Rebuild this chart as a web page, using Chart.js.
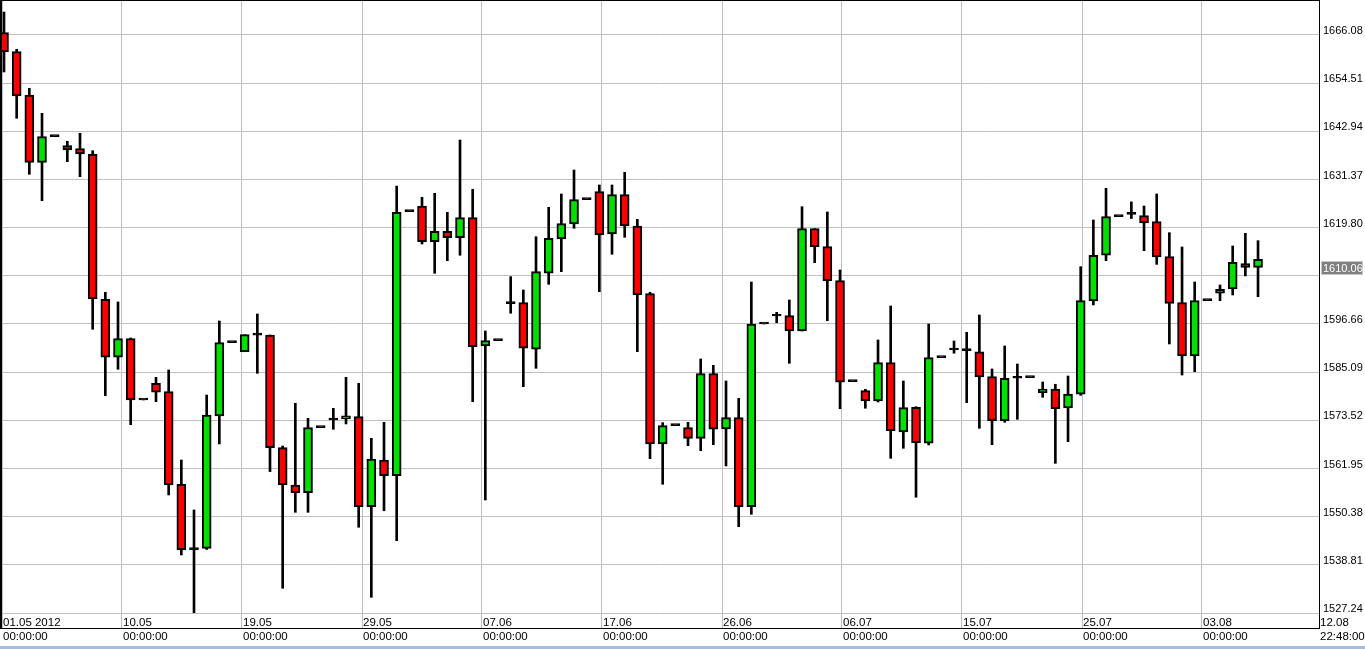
<!DOCTYPE html>
<html><head><meta charset="utf-8">
<script src="https://cdn.jsdelivr.net/npm/chart.js@4.4.1/dist/chart.umd.min.js"></script>
<style>html,body{margin:0;padding:0;background:#fff;overflow:hidden}canvas{display:block}</style>
</head><body>
<canvas id="c" width="1365" height="649"></canvas>
<script>
// ---- data (daily bars, 01.05.2012 .. 08.08.2012) ----
const openP = [1666.64,1662.07,1651.67,1635.50,1641.65,1639.49,1638.77,1637.43,1602.60,1588.67,
1593.13,1578.41,1582.42,1580.40,1558.16,1542.45,1542.78,1574.57,1592.17,1590.00,
1594.00,1594.02,1566.95,1557.99,1556.14,1571.76,1573.60,1573.85,1574.40,1552.78,
1564.00,1560.22,1623.64,1625.01,1616.43,1618.95,1617.39,1622.20,1591.40,1592.65,
1601.54,1601.78,1590.59,1608.84,1617.08,1620.68,1626.52,1628.44,1618.28,1627.72,
1620.20,1603.94,1567.84,1572.23,1571.76,1569.20,1584.73,1571.45,1574.16,1552.78,
1596.66,1598.59,1598.66,1594.98,1619.56,1615.23,1607.06,1582.81,1580.64,1578.17,
1587.37,1570.72,1576.65,1568.01,1588.57,1590.42,1590.25,1589.97,1584.00,1573.36,
1583.62,1583.76,1580.17,1581.05,1576.49,1579.78,1602.20,1613.17,1622.44,1623.00,
1622.68,1621.24,1612.83,1601.78,1588.98,1602.27,1604.04,1605.07,1611.15,1610.28];
const highP = [1671.60,1662.65,1653.28,1647.27,1641.65,1640.55,1642.47,1638.29,1604.28,1601.95,
1593.30,1578.41,1583.86,1585.62,1563.99,1551.99,1579.60,1597.38,1592.17,1594.09,
1599.07,1594.02,1567.36,1577.62,1574.01,1571.76,1576.40,1583.86,1582.42,1569.21,
1573.05,1629.81,1623.64,1627.10,1628.06,1623.49,1640.86,1629.02,1594.98,1592.65,
1608.03,1604.83,1617.63,1624.69,1627.89,1633.65,1626.52,1630.05,1630.05,1633.10,
1621.81,1604.28,1572.96,1572.23,1573.05,1588.26,1586.74,1582.97,1578.80,1606.75,
1596.66,1599.47,1602.43,1624.84,1619.56,1623.57,1609.64,1582.81,1580.98,1592.82,
1600.99,1582.97,1576.80,1596.66,1588.57,1592.58,1594.67,1598.83,1585.86,1591.38,
1587.05,1583.76,1582.73,1582.18,1584.17,1610.43,1621.65,1629.26,1622.44,1626.00,
1625.00,1627.89,1618.60,1615.16,1606.75,1602.27,1606.03,1615.40,1618.45,1616.68];
const lowP = [1657.20,1646.07,1632.62,1626.28,1641.65,1635.65,1632.05,1595.39,1579.44,1585.78,
1572.47,1578.41,1578.00,1555.59,1541.18,1527.00,1542.50,1567.84,1592.17,1590.00,
1584.82,1561.20,1533.18,1551.43,1551.43,1571.76,1571.37,1572.65,1547.83,1531.01,
1551.80,1544.60,1623.64,1615.88,1608.84,1611.87,1613.17,1578.00,1554.39,1592.65,
1599.24,1581.60,1586.02,1606.20,1609.23,1619.65,1626.52,1604.42,1613.41,1617.49,
1590.01,1564.31,1558.16,1572.23,1567.43,1566.23,1567.67,1562.56,1547.98,1550.95,
1596.66,1596.97,1587.22,1594.98,1611.39,1597.45,1576.32,1582.81,1576.42,1577.93,
1564.40,1566.80,1555.04,1567.60,1588.57,1589.63,1577.76,1571.61,1567.67,1573.05,
1573.77,1583.76,1579.06,1563.20,1568.40,1579.54,1601.23,1611.87,1622.44,1622.00,
1614.27,1610.99,1591.86,1584.40,1585.20,1602.27,1602.27,1603.63,1608.20,1603.22];
const closeP = [1662.00,1651.43,1635.50,1641.65,1641.65,1638.46,1637.50,1602.67,1588.67,1593.13,
1578.41,1578.41,1580.26,1557.99,1542.38,1542.45,1574.80,1592.17,1592.17,1594.09,
1594.00,1566.95,1557.99,1556.14,1571.76,1571.76,1573.60,1574.60,1552.78,1564.24,
1560.22,1623.49,1623.64,1616.43,1618.95,1617.39,1622.20,1591.21,1592.65,1592.65,
1601.54,1590.83,1609.23,1617.25,1620.76,1626.52,1626.52,1618.04,1627.72,1620.20,
1603.63,1567.84,1572.23,1572.23,1569.20,1584.73,1571.37,1574.16,1552.78,1596.66,
1596.66,1598.59,1594.98,1619.56,1615.23,1607.06,1582.66,1582.81,1578.17,1587.37,
1571.05,1576.56,1568.16,1588.57,1588.57,1590.42,1590.25,1583.93,1573.36,1583.62,
1583.62,1583.76,1581.05,1576.32,1579.85,1602.27,1613.17,1622.44,1622.44,1623.00,
1620.92,1612.76,1601.63,1588.98,1602.27,1602.27,1605.00,1611.48,1610.28,1612.21];
const dateLabels = ['01.05 2012','10.05','19.05','29.05','07.06','17.06','26.06','06.07','15.07','25.07','03.08','12.08'];
const timeLabels = ['00:00:00','00:00:00','00:00:00','00:00:00','00:00:00','00:00:00','00:00:00','00:00:00','00:00:00','00:00:00','00:00:00','22:48:00'];
const priceTicks = [1527.24,1538.81,1550.38,1561.95,1573.52,1585.09,1596.66,1608.23,1619.80,1631.37,1642.94,1654.51,1666.08];
const lastPrice = 1610.06;

// ---- styling / layout ----
const UP = '#00e000', DOWN = '#ff0000', FLAT = '#000000';
const FONT = 'Liberation Sans, Arial, sans-serif';
const BAR_STEP = 12.667;           // px per bar
const AREA_W = 1317;               // chart area width (2..1319)
const X_MIN = -2 / BAR_STEP;
const X_MAX = X_MIN + AREA_W / BAR_STEP;
const GRID_STEP = 120 / BAR_STEP;  // vertical grid every 120px
const Y_MAX = 1674.247, Y_MIN = 1527.24;

const idx = openP.map((_, i) => i);
const bodyColors = idx.map(i => closeP[i] > openP[i] ? UP : (closeP[i] < openP[i] ? DOWN : FLAT));
const bodies = idx.map(i => ({x: i, y: [openP[i], closeP[i]]}));
const wicks = idx.map(i => ({x: i, y: [lowP[i], highP[i]]}));

const framePlugin = {
  id: 'frame',
  afterDraw(chart) {
    const ctx = chart.ctx;
    const ys = chart.scales.y;
    ctx.save();
    ctx.fillStyle = '#000';
    ctx.fillRect(0, 0, 2, 629);
    ctx.fillRect(0, 0, 1320, 1);
    ctx.fillRect(1319, 0, 1, 629);
    ctx.fillRect(0, 628, 1320, 1);
    // bottom strip
    ctx.fillStyle = '#a9bbd6';
    ctx.fillRect(0, 646, 1365, 3);
    // current price box
    const py = Math.round(ys.getPixelForValue(lastPrice));
    ctx.fillStyle = '#808080';
    ctx.fillRect(1321, py - 7, 42, 14);
    ctx.strokeStyle = '#c8c8c8';
    ctx.lineWidth = 1;
    ctx.strokeRect(1321.5, py - 6.5, 41, 13);
    ctx.fillStyle = '#ffffff';
    ctx.font = '11px ' + FONT;
    ctx.textBaseline = 'middle';
    ctx.textAlign = 'left';
    ctx.fillText(lastPrice.toFixed(2), 1323, py + 0.5);
    ctx.restore();
  }
};

const noPad = s => { s.paddingTop = 0; s.paddingBottom = 0; s.paddingLeft = 0; s.paddingRight = 0; };

new Chart(document.getElementById('c'), {
  type: 'bar',
  data: {
    datasets: [
      {
        label: 'body', data: bodies, order: 1, grouped: false,
        backgroundColor: bodyColors, borderColor: '#000', borderWidth: 2,
        borderSkipped: false, barThickness: 9, minBarLength: 2
      },
      {
        label: 'wick', data: wicks, order: 2, grouped: false,
        backgroundColor: '#000', borderWidth: 0, barThickness: 2
      }
    ]
  },
  options: {
    responsive: false,
    animation: false,
    events: [],
    layout: {padding: {left: 2, top: 1, right: 0, bottom: 0}},
    plugins: {legend: {display: false}, tooltip: {enabled: false}},
    scales: {
      x: {
        type: 'linear', min: X_MIN, max: X_MAX, offset: false,
        grid: {color: '#c0c0c0', tickColor: '#c0c0c0', lineWidth: 1, drawTicks: true, tickLength: 15, offset: false},
        border: {display: false},
        afterBuildTicks: s => {
          s.ticks = dateLabels.map((_, k) => ({value: k < dateLabels.length - 1 ? X_MIN + k * GRID_STEP : X_MAX}));
        },
        afterFit: s => { s.height = 36; noPad(s); },
        ticks: {
          autoSkip: false, maxRotation: 0, minRotation: 0, align: 'start',
          padding: -12, labelOffset: 1, color: '#000',
          font: {family: FONT, size: 11.5, lineHeight: '14px'},
          callback: (v, i) => [dateLabels[i], timeLabels[i]]
        }
      },
      y: {
        type: 'linear', position: 'right', min: Y_MIN, max: Y_MAX,
        grid: {color: '#c0c0c0', lineWidth: 1, drawTicks: false},
        border: {display: false},
        afterBuildTicks: s => { s.ticks = priceTicks.map(v => ({value: v})); },
        afterFit: s => { s.width = 46; noPad(s); },
        ticks: {
          padding: 4, labelOffset: -4, color: '#000',
          font: {family: FONT, size: 11},
          callback: (v) => Math.abs(v - lastPrice) < 4 ? '' : Number(v).toFixed(2)
        }
      }
    }
  },
  plugins: [framePlugin]
});
</script>
</body></html>
